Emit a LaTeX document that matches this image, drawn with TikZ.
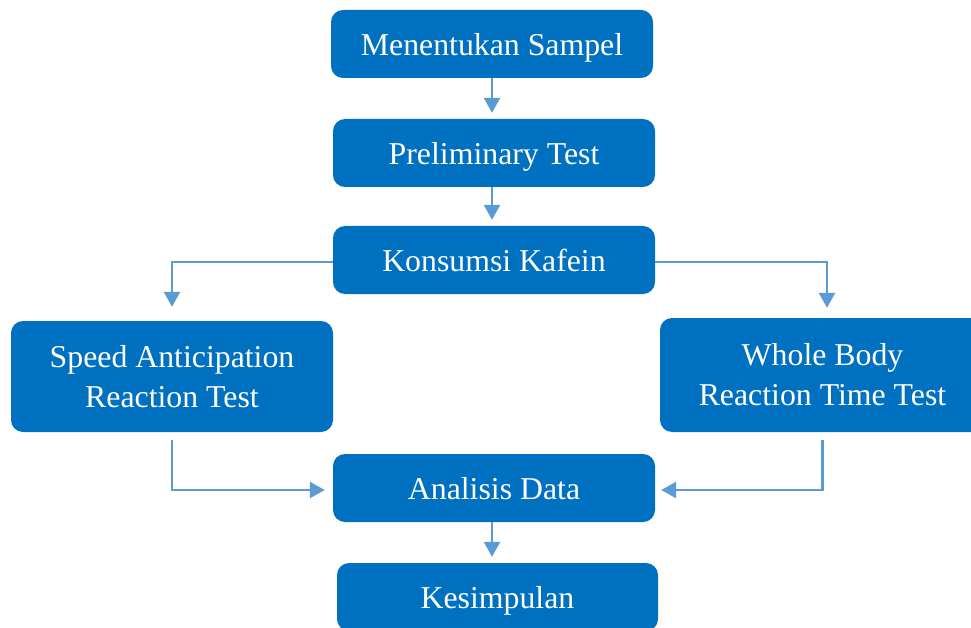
\documentclass[tikz,border=0pt]{standalone}
\usepackage{fontspec}
\setmainfont{Liberation Serif}
\usetikzlibrary{arrows.meta,calc}
\definecolor{boxblue}{HTML}{0070C0}
\definecolor{arrblue}{HTML}{5B9BD5}
\begin{document}
\begin{tikzpicture}[x=1pt,y=-1pt,
  box/.style={draw=none,fill=boxblue,rounded corners=12pt,text=white,align=center,
    inner sep=0pt,font=\fontsize{31.8}{40}\selectfont},
  one/.style={box,text depth=0pt,minimum width=322pt,minimum height=68pt},
  arr/.style={draw=arrblue,line width=2.6pt,-{Triangle[length=15pt,width=16pt]}}]
\useasboundingbox (0,0) rectangle (971,628);
\node[one] (m) at (492,44) {Menentukan Sampel};
\node[one] (p) at (494,153) {Preliminary Test};
\node[one] (k) at (494,260) {Konsumsi Kafein};
\node[box,minimum width=322pt,minimum height=111pt] (s) at (172,376.5) {Speed Anticipation\\Reaction Test};
\node[box,minimum width=325pt,minimum height=114pt] (w) at (822.5,375) {Whole Body\\Reaction Time Test};
\node[one] (a) at (494,488) {Analisis Data};
\node[one,minimum width=321pt] (c) at (497.5,597) {Kesimpulan};
\coordinate (wtop) at ([xshift=4.5pt]w.north);
\draw[arr,shorten >=6pt] (m.south) -- (m.south |- p.north);
\draw[arr,shorten >=6pt] (p.south -| m.south) -- (k.north -| m.south);
\draw[arr,shorten >=14pt] ([yshift=-2pt]k.west) -| (s.north);
\draw[arr,shorten >=10pt] ([yshift=-2pt]k.east) -| (wtop);
\draw[arr,shorten <=8pt,shorten >=8pt] (s.south) |- ([yshift=-2pt]a.west);
\draw[arr,shorten <=8pt,shorten >=6pt] (w.south) |- ([yshift=-2pt]a.east);
\draw[arr,shorten >=6pt] (a.south -| m.south) -- (c.north -| m.south);
\end{tikzpicture}
\end{document}
